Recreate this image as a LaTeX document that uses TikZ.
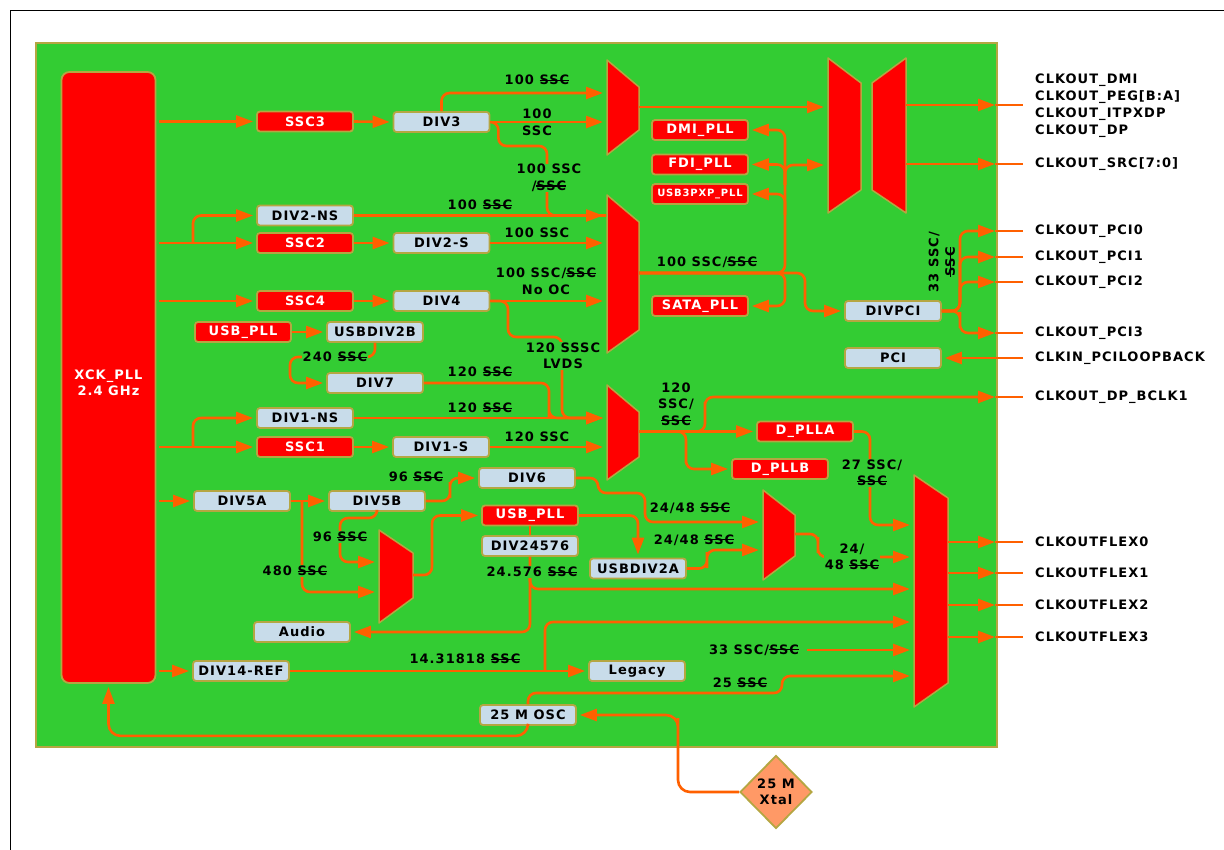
\documentclass[tikz,border=0pt]{standalone}
\usepackage{fontspec}
\setmainfont{DejaVu Sans}[LetterSpace=8]
\usetikzlibrary{arrows.meta,shapes.geometric}
\definecolor{pgreen}{HTML}{33CC33}
\definecolor{olv}{HTML}{B5A642}
\definecolor{wirec}{HTML}{FF6000}
\definecolor{lblue}{HTML}{C8DCEA}
\definecolor{xtalc}{HTML}{FF9966}
\newsavebox\strkbox
\newcommand\strk[1]{\leavevmode\sbox\strkbox{#1}\rlap{\rule[0.3em]{\wd\strkbox}{1.3pt}}\usebox\strkbox}
\begin{document}
\begin{tikzpicture}[x=1pt,y=-1pt,
  every node/.style={font=\fontsize{13}{16.5}\selectfont\bfseries},
  bbox/.style={draw=olv,line width=1.8pt,rounded corners=3pt,minimum width=96pt,minimum height=20pt,inner sep=0pt},
  rbox/.style={bbox,fill=red,text=white},
  lbox/.style={bbox,fill=lblue,text=black},
  muxs/.style={fill=red,draw=olv,line width=1.5pt,line join=round},
  wire/.style={draw=wirec,line width=2.6pt,rounded corners=8pt},
  arr/.style={wire,-{Triangle[length=17pt,width=12pt]},shorten >=3pt},
  earr/.style={wire,-{Triangle[length=17pt,width=12pt]}},
  lab/.style={fill=pgreen,inner sep=0.8pt,align=center},
  lab0/.style={inner sep=0.8pt,align=center},
  outl/.style={anchor=west,inner sep=0pt}
]
\useasboundingbox (0,0) rectangle (1224,850);
\draw[line width=1pt] (10,850) -- (10,11) -- (1224,11);
\path[fill=pgreen,draw=olv,line width=2pt] (36,43) rectangle (997,747);

% multiplexers
\path[muxs] (607,60) -- (639,87) -- (639,130) -- (607,155) -- cycle;
\path[muxs] (607,195) -- (639,222) -- (639,330) -- (607,353) -- cycle;
\path[muxs] (607,385) -- (639,412) -- (639,457) -- (607,480) -- cycle;
\path[muxs] (379,530) -- (413,553) -- (413,598) -- (379,623) -- cycle;
\path[muxs] (763,490) -- (795,515) -- (795,556) -- (763,580) -- cycle;
\path[muxs] (914,475) -- (948,498) -- (948,683) -- (914,707) -- cycle;
\path[muxs] (828,58) -- (861,83) -- (861,190) -- (828,213) -- cycle;
\path[muxs] (872,83) -- (906,58) -- (906,213) -- (872,190) -- cycle;

% boxes
\node[draw=olv,line width=1.8pt,fill=red,rounded corners=8pt,minimum width=94pt,minimum height=611pt,inner sep=0pt] (xck) at (108.5,377.5) {};
\node[text=white,align=center] (xcktext) at (108.5,383) {XCK\_PLL\\2.4 GHz};
\node[rbox] (ssc3) at (305,121.5) {SSC3};
\node[lbox] (div3) at (441.5,122) {DIV3};
\node[lbox] (div2ns) at (305,215.5) {DIV2-NS};
\node[rbox] (ssc2) at (305,243) {SSC2};
\node[lbox] (div2s) at (441.5,243) {DIV2-S};
\node[rbox] (ssc4) at (305,301) {SSC4};
\node[lbox] (div4) at (441.5,301) {DIV4};
\node[rbox] (usbpll1) at (243,332) {USB\_PLL};
\node[lbox] (usbdiv2b) at (375,332) {USBDIV2B};
\node[lbox] (div7) at (375,383) {DIV7};
\node[lbox] (div1ns) at (305,418) {DIV1-NS};
\node[rbox] (ssc1) at (305,447) {SSC1};
\node[lbox] (div1s) at (441,447) {DIV1-S};
\node[lbox] (div5a) at (242,501) {DIV5A};
\node[lbox] (div5b) at (377,501) {DIV5B};
\node[lbox] (div6) at (527,478) {DIV6};
\node[rbox] (usbpll2) at (530,515.5) {USB\_PLL};
\node[lbox] (div24576) at (530,546) {DIV24576};
\node[lbox] (usbdiv2a) at (638,568.5) {USBDIV2A};
\node[lbox] (audio) at (302,632) {Audio};
\node[lbox] (div14) at (241,671) {DIV14-REF};
\node[lbox] (legacy) at (637,671) {Legacy};
\node[lbox] (osc) at (528,715) {25 M OSC};
\node[rbox] (dmipll) at (700,130) {DMI\_PLL};
\node[rbox] (fdipll) at (700,164.5) {FDI\_PLL};
\node[rbox,font=\fontsize{10}{12}\selectfont\bfseries] (usb3pll) at (700,194) {USB3PXP\_PLL};
\node[rbox] (satapll) at (700,306) {SATA\_PLL};
\node[lbox] (divpci) at (893,311) {DIVPCI};
\node[lbox] (pci) at (893,358) {PCI};
\node[rbox] (dplla) at (805,431.5) {D\_PLLA};
\node[rbox] (dpllb) at (780,469) {D\_PLLB};
\node[draw=olv,line width=1.8pt,fill=xtalc,shape=diamond,minimum width=72pt,minimum height=73pt,inner sep=0pt,align=center] (xtal) at (776,792) {25 M\\Xtal};

% coordinates
\coordinate (m1a) at (606,93);
\coordinate (m1o) at (639,107);
\coordinate (bmA) at (827,107);
\coordinate (bmB) at (827,165);
\coordinate (m2a) at (606,215.5);
\coordinate (m2o) at (639,273);
\coordinate (m3a) at (606,418);
\coordinate (m3o) at (639,431.5);
\coordinate (m4a) at (378,562);
\coordinate (m4b) at (378,592);
\coordinate (m4o) at (413,575);
\coordinate (m5a) at (762,522);
\coordinate (m5b) at (762,550);
\coordinate (m5o) at (795,534);
\coordinate (m6a) at (913,525);
\coordinate (m6b) at (913,589);
\coordinate (m6c) at (913,557);
\coordinate (m6d) at (913,622);
\coordinate (m6e) at (913,650);
\coordinate (m6f) at (913,676);
\coordinate (bo1) at (906,105);
\coordinate (bo2) at (906,164);
\coordinate (busF) at (785,185);
\coordinate (busU) at (785,215);
\coordinate (b2) at (193,243);
\coordinate (b1) at (193,447);
\coordinate (b5) at (302,501);
\coordinate (b24) at (530,578);
\coordinate (b14) at (545,671);
\coordinate (c33) at (807,650);
\foreach \n/\y in {DMI/105,SRC/164,P0/231,P1/257,P2/282,P3/333,DP/397,F0/542,F1/573,F2/605,F3/637}{
  \coordinate (e\n) at (995,\y);
  \coordinate (o\n) at (1023,\y);
}
\foreach \n/\y in {F0/542,F1/573,F2/605,F3/637}{\coordinate (s\n) at (948,\y);}
\coordinate (eLB) at (1023,358);

% wires: top section
\draw[arr,shorten <=3pt] (xck.east |- ssc3) -- (ssc3.west);
\draw[arr] (ssc3.east) -- (div3.west);
\draw[arr] (div3.east) -- (div3.east -| m1a);
\draw[arr] (div3.north) |- (m1a);
\draw[wire] (div3.east) -- ++(8,0) |- (547,146) |- (m2a);
\draw[arr] (m1o) -- (bmA);
\draw[arr,shorten <=3pt] (xck.east |- ssc2) -- (ssc2.west);
\draw[arr] (b2) |- (div2ns.west);
\draw[arr] (ssc2.east) -- (div2s.west);
\draw[arr] (div2ns.east) -- (m2a);
\draw[arr] (div2s.east) -- (div2s.east -| m2a);
\draw[arr,shorten <=3pt] (xck.east |- ssc4) -- (ssc4.west);
\draw[arr] (ssc4.east) -- (div4.west);
\draw[arr] (div4.east) -- (div4.east -| m2a);
\draw[arr] (div4.east) -| (508,337) -| (562,418) -- (m3a);
\draw[arr] (usbpll1.east) -- (usbdiv2b.west);
\draw[arr] (usbdiv2b.south) |- (290,357) |- (div7.west);
\draw[arr] (div7.east) -| (549,410) |- (m3a);
\draw[arr,shorten <=3pt] (xck.east |- ssc1) -- (ssc1.west);
\draw[arr] (b1) |- (div1ns.west);
\draw[arr] (div1ns.east) -- (div1ns.east -| m3a);
\draw[arr] (ssc1.east) -- (div1s.west);
\draw[arr] (div1s.east) -- (div1s.east -| m3a);

% PLL bus
\draw[arr] (m2o) -| (785,150) |- (dmipll.east);
\draw[arr] (busF) |- (fdipll.east);
\draw[arr] (busU) |- (usb3pll.east);
\draw[arr] (busF) |- (bmB);
\draw[arr] (m2o) -| (785,290) |- (satapll.east);
\draw[arr] (m2o) -| (805,295) |- (divpci.west);
\draw[earr] (bo1) -- (eDMI);
\draw[wire] (eDMI) -- (oDMI);
\draw[earr] (bo2) -- (eSRC);
\draw[wire] (eSRC) -- (oSRC);
\draw[earr] (divpci.east) -| (960,250) |- (eP0);
\draw[earr] (divpci.east) -| (960,270) |- (eP1);
\draw[earr] (divpci.east) -| (960,295) |- (eP2);
\draw[earr] (divpci.east) -| (960,320) |- (eP3);
\foreach \n in {P0,P1,P2,P3}{\draw[wire] (e\n) -- (o\n);}
\draw[arr] (eLB) -- (pci.east);

% mux3 outputs
\draw[arr] (m3o) -- (dplla.west);
\draw[earr] (m3o) -| (705,410) |- (eDP);
\draw[wire] (eDP) -- (oDP);
\draw[arr] (m3o) -| (686,455) |- (dpllb.west);
\draw[arr] (dplla.east) -| (870,505) |- (m6a);

% lower section
\draw[arr,shorten <=3pt] (xck.east |- div5a) -- (div5a.west);
\draw[arr] (div5a.east) -- (div5b.west);
\draw[arr] (b5) |- (m4b);
\draw[arr] (div5b.south) |- (340,518) |- (m4a);
\draw[arr] (div5b.east) -| (450,490) |- (div6.west);
\draw[arr] (m4o) -| (432,540) |- (usbpll2.west);
\draw[wire] (usbpll2.south) -- (div24576.north);
\draw[arr] (div24576.south) |- (audio.east);
\draw[arr] (b24) |- (m6b);
\draw[arr] (usbpll2.east) -| (usbdiv2a.north);
\draw[arr] (div6.east) -| (598,493) -| (645,522) -- (m5a);
\draw[arr] (usbdiv2a.east) -| (707,560) |- (m5b);
\draw[arr] (m5o) -| (818,545) |- (m6c);
\draw[arr,shorten <=3pt] (xck.east |- div14) -- (div14.west);
\draw[arr] (div14.east) -- (legacy.west);
\draw[arr] (b14) |- (m6d);
\draw[arr] (c33) -- (m6e);
\draw[arr] (osc.north) |- (782,693) |- (m6f);
\draw[arr,rounded corners=12pt] (osc.south) -- ++(0,10) -| (xck.south);
\draw[arr,rounded corners=12pt] (xtal.west) -| (678,730) |- (osc.east);
\foreach \n in {F0,F1,F2,F3}{\draw[earr] (s\n) -- (e\n); \draw[wire] (e\n) -- (o\n);}

% labels
\node[lab0] (l1) at (537,80) {100 \strk{SSC}};
\node[lab0] (l2a) at (537,114) {100};
\node[lab0] (l2b) at (537,131) {SSC};
\node[lab] (l3) at (549,178) {100 SSC\\/\strk{SSC}};
\node[lab0] (l4) at (480,205) {100 \strk{SSC}};
\node[lab0] (l5) at (537,233) {100 SSC};
\node[lab0] (l6) at (546,281.5) {100 SSC/\strk{SSC}\\No OC};
\node[lab0] (l7) at (707,262) {100 SSC/\strk{SSC}};
\node[lab] (l8) at (563,356) {120 SSSC\\LVDS};
\node[lab] (l9) at (335,357) {240 \strk{SSC}};
\node[lab0] (l10) at (480,372) {120 \strk{SSC}};
\node[lab0] (l11) at (480,408) {120 \strk{SSC}};
\node[lab0] (l12) at (537,437) {120 SSC};
\node[lab0] (l13) at (676,404) {120\\SSC/\\\strk{SSC}};
\node[lab0] (l14) at (416,477) {96 \strk{SSC}};
\node[lab] (l15) at (340,537) {96 \strk{SSC}};
\node[lab] (l16) at (295,571) {480 \strk{SSC}};
\node[lab] (l17) at (532,572) {24.576 \strk{SSC}};
\node[lab0] (l18) at (690,508) {24/48 \strk{SSC}};
\node[lab0] (l19) at (694,540) {24/48 \strk{SSC}};
\node[lab] (l20) at (852,557) {24/\\48 \strk{SSC}};
\node[lab] (l21) at (872,473) {27 SSC/\\\strk{SSC}};
\node[lab0] (l22) at (465,659) {14.31818 \strk{SSC}};
\node[lab0] (l23) at (754,650) {33 SSC/\strk{SSC}};
\node[lab0] (l24) at (740,683) {25 \strk{SSC}};
\node[lab0,rotate=90] (l25) at (942,262) {33 SSC/\\\strk{SSC}};

% outside labels
\node[outl] (t1) at (1035,80) {CLKOUT\_DMI};
\node[outl] (t2) at (1035,97) {CLKOUT\_PEG[B:A]};
\node[outl] (t3) at (1035,114) {CLKOUT\_ITPXDP};
\node[outl] (t4) at (1035,131) {CLKOUT\_DP};
\node[outl] (t5) at (1035,164) {CLKOUT\_SRC[7:0]};
\node[outl] (t6) at (1035,231) {CLKOUT\_PCI0};
\node[outl] (t7) at (1035,257) {CLKOUT\_PCI1};
\node[outl] (t8) at (1035,282) {CLKOUT\_PCI2};
\node[outl] (t9) at (1035,333) {CLKOUT\_PCI3};
\node[outl] (t10) at (1035,358) {CLKIN\_PCILOOPBACK};
\node[outl] (t11) at (1035,397) {CLKOUT\_DP\_BCLK1};
\node[outl] (t12) at (1035,542) {CLKOUTFLEX0};
\node[outl] (t13) at (1035,573) {CLKOUTFLEX1};
\node[outl] (t14) at (1035,605) {CLKOUTFLEX2};
\node[outl] (t15) at (1035,637) {CLKOUTFLEX3};
\end{tikzpicture}
\end{document}
